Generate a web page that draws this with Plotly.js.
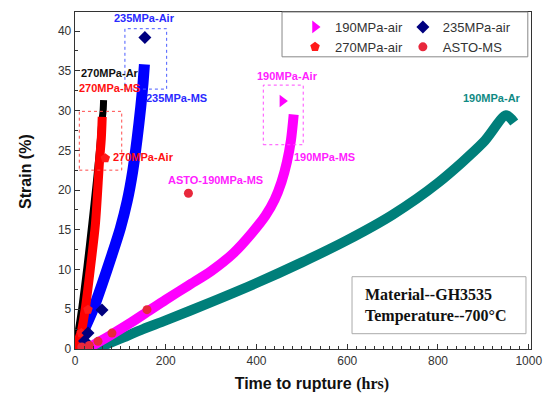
<!DOCTYPE html>
<html><head><meta charset="utf-8">
<script src="https://cdn.plot.ly/plotly-3.0.1.min.js"></script>
<style>body{margin:0;background:#fff}#c{width:546px;height:395px}</style>
</head><body><div id="c"></div>
<script>
// 190MPa-Ar curve (teal)
const ar190_t = [45, 100, 150, 200, 300, 400, 500, 600, 700, 800, 900, 950, 968];
const ar190_s = [0, 1.3, 2.5, 3.6, 5.9, 8.3, 10.9, 13.7, 16.9, 20.9, 26.0, 29.4, 28.5];
// 190MPa-MS curve (magenta)
const ms190_t = [25, 50, 80, 120, 160, 200, 250, 300, 350, 390, 420, 440, 455, 467, 476, 482];
const ms190_s = [0, 0.8, 1.8, 3.2, 4.7, 6.2, 8.0, 9.8, 12.1, 14.6, 16.8, 18.8, 21.0, 23.5, 26.3, 29.5];
// 235MPa-MS curve (blue)
const ms235_t = [2, 10, 20, 40, 60, 80, 100, 115, 127, 137, 145, 150, 153];
const ms235_s = [0.3, 1.2, 2.4, 5.0, 8.2, 11.6, 15.2, 18.6, 22.3, 26.5, 30.5, 33.5, 35.8];
// 270MPa-Ar curve (black)
const ar270_t = [0, 7, 15, 26, 37, 47, 54, 59, 62, 63];
const ar270_s = [0, 2.2, 5.2, 10.2, 15.7, 21, 25, 28.5, 30, 31.3];
// 270MPa-MS curve (red)
const ms270_t = [0, 6, 14, 23, 34, 45, 54, 58, 60];
const ms270_s = [0, 0.9, 2.2, 5.2, 10.2, 15.7, 23.6, 26.5, 29.2];
// Air test points
const air190_t = [457];
const air190_s = [31.2];
const air235_t = [21, 28.7, 59.5, 154];
const air235_s = [1.0, 2.0, 4.9, 39.2];
const air270_t = [14, 28.7, 66.8];
const air270_s = [2.0, 4.95, 24.0];
const asto_t = [15, 31.5, 50.7, 81.5, 158.7, 250];
const asto_s = [0.25, 0.45, 0.96, 2.0, 4.95, 19.6];

const xTicks = [0, 200, 400, 600, 800, 1000];
const yTicks = [0, 5, 10, 15, 20, 25, 30, 35, 40];

function line(x, y, color, w) {
  return {x: x, y: y, mode: 'lines', type: 'scatter', showlegend: false, hoverinfo: 'skip',
    line: {color: color, width: w, shape: 'spline', smoothing: 0.8}};
}
function pts(x, y, name, sym, color, size, lg) {
  return {x: x, y: y, mode: 'markers', type: 'scatter', name: name, legend: lg,
    marker: {symbol: sym, color: color, size: size, line: {width: 0}}};
}

const data = [
  line(ar190_t, ar190_s, '#007f7a', 10),
  line(ms190_t, ms190_s, '#ff00ff', 10),
  line(ms235_t, ms235_s, '#0000ff', 11),
  line(ar270_t, ar270_s, '#000000', 7),
  line(ms270_t, ms270_s, '#ff0000', 9),
  pts(air190_t, air190_s, '190MPa-air', 'triangle-right', '#ff00ff', 11, 'legend'),
  pts(air270_t, air270_s, '270MPa-air', 'pentagon', '#ff1a1a', 10, 'legend'),
  pts(air235_t, air235_s, '235MPa-air', 'diamond', '#00007f', 10, 'legend2'),
  pts(asto_t, asto_s, 'ASTO-MS', 'circle', '#e8283c', 9, 'legend2')
];

const lf = {family: 'Liberation Sans, Arial, sans-serif', size: 11};
function lab(text, x, y, color) {
  return {text: '<b>' + text + '</b>', x: x, y: y, xref: 'x', yref: 'y', showarrow: false,
    font: Object.assign({}, lf, {color: color})};
}
const pad = '&nbsp;&nbsp;&nbsp;&nbsp;';

const layout = {
  width: 546, height: 395,
  margin: {l: 75, r: 15, t: 12, b: 46},
  paper_bgcolor: '#fff', plot_bgcolor: '#fff',
  font: {family: 'Liberation Sans, Arial, sans-serif', color: '#333'},
  xaxis: {range: [0, 1005], tickvals: xTicks, ticks: 'inside', ticklen: 5, tickwidth: 1,
    tickcolor: '#333', showline: true, linecolor: '#333', linewidth: 1.3, mirror: true,
    showgrid: false, zeroline: false, tickfont: {size: 12, color: '#333'},
    minor: {dtick: 20, ticks: 'inside', ticklen: 3, tickcolor: '#333', showgrid: false},
    title: {text: '<b>' + pad + 'Time to rupture <span style="font-family:Liberation Serif;font-weight:bold">(hrs)</span></b>',
      font: {size: 16, color: '#111'}, standoff: 11}},
  yaxis: {range: [0, 42.4], tickvals: yTicks, ticks: 'inside', ticklen: 5, tickwidth: 1,
    tickcolor: '#333', showline: true, linecolor: '#333', linewidth: 1.3, mirror: true,
    showgrid: false, zeroline: false, tickfont: {size: 12, color: '#333'},
    minor: {dtick: 2.5, ticks: 'inside', ticklen: 3, tickcolor: '#333', showgrid: false},
    title: {text: '<b>' + pad + 'Strain (%)</b>', font: {size: 16, color: '#111'}, standoff: 22}},
  legend: {x: 0.4825, xanchor: 'left', y: 1.0, yanchor: 'top', bgcolor: 'rgba(0,0,0,0)',
    borderwidth: 0, font: {size: 13, color: '#333'}, tracegroupgap: 0},
  legend2: {x: 0.719, xanchor: 'left', y: 1.0, yanchor: 'top', bgcolor: 'rgba(0,0,0,0)',
    borderwidth: 0, font: {size: 13, color: '#333'}, tracegroupgap: 0},
  shapes: [
    {type: 'rect', xref: 'paper', yref: 'paper', x0: 0.454, x1: 0.993, y0: 0.867, y1: 1.0,
      line: {color: '#888', width: 1}, fillcolor: 'rgba(0,0,0,0)'},
    {type: 'rect', xref: 'paper', yref: 'paper', x0: 0.6075, x1: 0.989, y0: 0.0454, y1: 0.2145,
      line: {color: '#aaa', width: 1}, fillcolor: 'rgba(0,0,0,0)'},
    {type: 'rect', xref: 'x', yref: 'y', x0: 110, x1: 202, y0: 32.7, y1: 40.3,
      line: {color: '#4a5cff', width: 1, dash: 'dot'}},
    {type: 'rect', xref: 'x', yref: 'y', x0: 9.5, x1: 103, y0: 22.5, y1: 29.9,
      line: {color: '#ff4a4a', width: 1, dash: 'dot'}},
    {type: 'rect', xref: 'x', yref: 'y', x0: 415, x1: 503, y0: 25.7, y1: 33.2,
      line: {color: '#ff4aff', width: 1, dash: 'dot'}}
  ],
  annotations: [
    lab('235MPa-Air', 154, 41.6, '#2a2aff'),
    lab('270MPa-Ar', 78, 34.7, '#111'),
    lab('270MPa-MS', 77, 32.9, '#ff1010'),
    lab('235MPa-MS', 224, 31.6, '#2a2aff'),
    lab('270MPa-Air', 152, 24.1, '#ff1010'),
    lab('ASTO-190MPa-MS', 310, 21.3, '#ff22ff'),
    lab('190MPa-Air', 468, 34.3, '#ff22ff'),
    lab('190MPa-MS', 549, 24.2, '#ff22ff'),
    lab('190MPa-Ar', 919, 31.6, '#108a84'),
    {text: '<b>Material--GH3535<br>Temperature--700°C</b>', xref: 'paper', yref: 'paper',
      x: 0.6315, y: 0.13, xanchor: 'left', yanchor: 'middle', showarrow: false, align: 'left',
      font: {family: 'Liberation Serif, Times New Roman, serif', size: 16, color: '#111'}}
  ]
};

Plotly.newPlot('c', data, layout, {staticPlot: true, displayModeBar: false});
</script></body></html>
